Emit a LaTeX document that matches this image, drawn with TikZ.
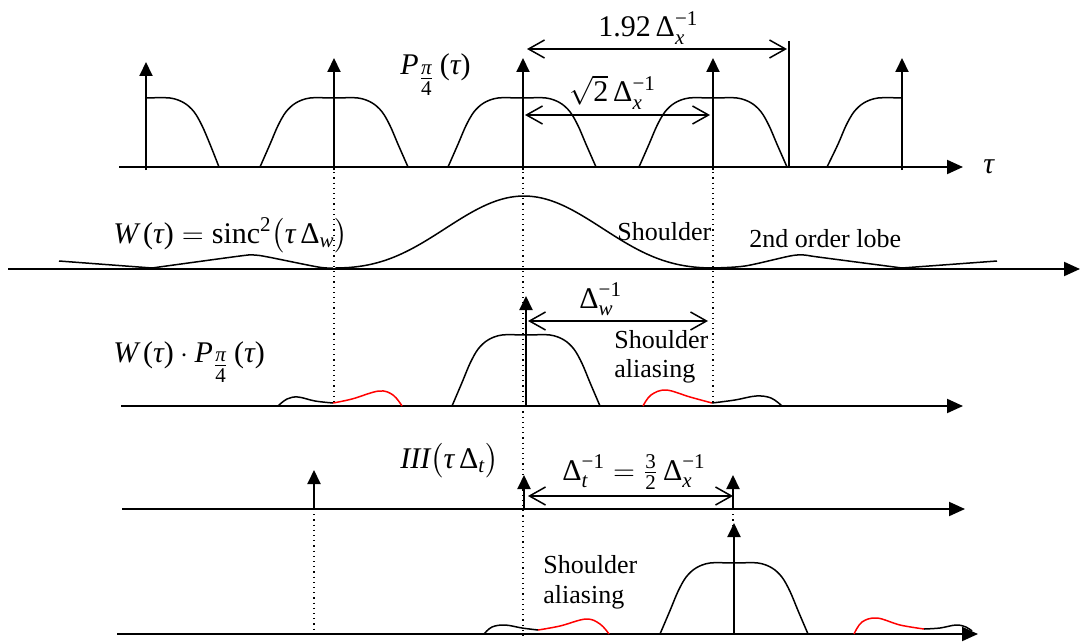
\documentclass[tikz,border=0pt]{standalone}
\usepackage{amsmath}
\usepackage{fontspec}
\setmainfont{Liberation Serif}
\usetikzlibrary{arrows.meta}
\newcommand\ti[1]{\text{\itshape #1}}
\newcommand\vt{\text{\itshape τ}}
\newcommand\vD{\text{Δ}}
\newcommand\vpi{\text{\itshape π}}
\newcommand\mone{\text{−1}}
\newcommand\pifour{\genfrac{}{}{}{1}{\vpi}{\text{4}}}
% hump: center x, axis y, height
\newcommand\humpfull[3]{\draw[curve] plot[smooth,tension=0.55] coordinates {({#1-74},#2) ({#1-64},{#2-0.33*#3}) ({#1-56},{#2-0.6*#3}) ({#1-48},{#2-0.8*#3}) ({#1-38},{#2-0.93*#3}) ({#1-24},{#2-#3}) (#1,{#2-#3}) ({#1+24},{#2-#3}) ({#1+38},{#2-0.93*#3}) ({#1+48},{#2-0.8*#3}) ({#1+56},{#2-0.6*#3}) ({#1+64},{#2-0.33*#3}) ({#1+74},#2)};}
\newcommand\humpright[3]{\draw[curve] plot[smooth,tension=0.55] coordinates {(#1,{#2-#3}) ({#1+24},{#2-#3}) ({#1+38},{#2-0.93*#3}) ({#1+48},{#2-0.8*#3}) ({#1+56},{#2-0.6*#3}) ({#1+64},{#2-0.33*#3}) ({#1+73},#2)};}
\newcommand\humpleft[3]{\draw[curve] plot[smooth,tension=0.55] coordinates {({#1-75},#2) ({#1-64},{#2-0.33*#3}) ({#1-56},{#2-0.6*#3}) ({#1-48},{#2-0.8*#3}) ({#1-38},{#2-0.93*#3}) ({#1-24},{#2-#3}) (#1,{#2-#3})};}
\begin{document}
\begin{tikzpicture}[x=0.5pt,y=-0.5pt,
  declare function={sncx(\u)=sin(\u*180)/(3.14159*\u);},
  axis/.style={line width=1pt,-{Triangle[length=8pt,width=7pt]}},
  impulse/.style={line width=1pt,-{Triangle[length=7pt,width=6.5pt]}},
  curve/.style={line width=0.75pt},
  redcurve/.style={line width=0.75pt,red},
  dimarrow/.style={line width=0.75pt,{Straight Barb[length=8pt,width=9pt]}-{Straight Barb[length=8pt,width=9pt]}},
  guide/.style={line width=0.6pt,dotted},
  txt/.style={font=\fontsize{13}{15}\selectfont,inner sep=0pt,anchor=base west},
  mlab/.style={font=\fontsize{15}{18}\selectfont,inner sep=0pt,anchor=base west},
]
\useasboundingbox (0,0) rectangle (1080,642);

% ---------- axes ----------
\coordinate (a1s) at (119,167); \coordinate (a1e) at (963,167);
\coordinate (a2s) at (8,269);   \coordinate (a2e) at (1080,269);
\coordinate (a3s) at (121,406); \coordinate (a3e) at (963,406);
\coordinate (a4s) at (122,509); \coordinate (a4e) at (965,509);
\coordinate (a5s) at (117,634); \coordinate (a5e) at (978,634);
\draw[axis] (a1s) -- (a1e);
\draw[axis] (a2s) -- (a2e);
\draw[axis] (a3s) -- (a3e);
\draw[axis] (a4s) -- (a4e);
\draw[axis] (a5s) -- (a5e);
\node[mlab] (tau) at (983,173) {\ti{τ}};

% ---------- dotted guides ----------
\coordinate (g1t) at (334,167); \coordinate (g1b) at (334,406);
\coordinate (g2t) at (523,167); \coordinate (g2b) at (523,636);
\coordinate (g3t) at (713,167); \coordinate (g3b) at (713,406);
\coordinate (g4t) at (314,509); \coordinate (g4b) at (314,634);
\coordinate (g5t) at (733,509); \coordinate (g5b) at (733,526);
\foreach \g in {1,...,5} \draw[guide] (g\g t) -- (g\g b);

% ---------- row 1 ----------
\coordinate (i1b) at (146,170); \coordinate (i1t) at (146,62);
\coordinate (i2b) at (334,170); \coordinate (i2t) at (334,58);
\coordinate (i3b) at (523,170); \coordinate (i3t) at (523,58);
\coordinate (i4b) at (713,170); \coordinate (i4t) at (713,58);
\coordinate (i5b) at (902,170); \coordinate (i5t) at (902,58);
\foreach \i in {1,...,5} \draw[impulse] (i\i b) -- (i\i t);
\humpright{146}{167}{69}
\humpfull{334}{167}{69}
\humpfull{522}{167}{69}
\humpfull{713}{167}{69}
\humpleft{902}{167}{69}
\coordinate (vlt) at (789,41); \coordinate (vlb) at (789,167);
\draw[line width=1pt] (vlt) -- (vlb);
\coordinate (d1s) at (527,49); \coordinate (d1e) at (787,49);
\draw[dimarrow] (d1s) -- (d1e);
\coordinate (d2s) at (525,115); \coordinate (d2e) at (710,115);
\draw[dimarrow] (d2s) -- (d2e);
\node[mlab] (l192) at (598,37) {$\text{1.92}\,\vD_{\ti{x}}^{\mone}$};
\node[mlab] (lsq) at (569,102) {$\sqrt{\text{2}}\,\vD_{\ti{x}}^{\mone}$};
\node[mlab] (lP) at (400,75) {$\ti{P}_{\pifour}\,\text{(}\vt\text{)}$};

% ---------- row 2 ----------
\draw[curve] (59,261) -- (152,268);
\draw[curve] plot[smooth,tension=0.5] coordinates {(152,268) (240,256) (254,255) (268,257) (318,267) (333,268)};
\draw[curve] plot[domain=-188.5:188.5,samples=58,smooth] ({524+\x},{268-72*sncx(\x/190)*sncx(\x/190)});
\draw[curve] plot[smooth,tension=0.5] coordinates {(712,268) (745,266) (790,256) (804,255) (818,257) (902,268)};
\draw[curve] (902,268) -- (997,261);
\node[mlab] (lW) at (113,243) {$\ti{W}\,\text{(}\vt\text{)} = \text{sinc}^{\text{2}}\bigl(\vt\,\vD_{\ti{w}}\bigr)$};
\node[txt] (lsh) at (617,240) {Shoulder};
\node[txt] (llobe) at (749,247) {2nd order lobe};

% ---------- row 3 ----------
\coordinate (j1b) at (526,406); \coordinate (j1t) at (526,296);
\draw[impulse] (j1b) -- (j1t);
\humpfull{526}{406}{71}
\draw[curve] plot[smooth,tension=0.6] coordinates {(278,406) (287,399) (298,397) (315,401) (333,403)};
\draw[redcurve] plot[smooth,tension=0.6] coordinates {(333,403) (352,399) (379,391) (393,395) (402,406)};
\draw[redcurve] plot[smooth,tension=0.6] coordinates {(643,406) (651,395) (666,390) (690,397) (712,403)};
\draw[curve] plot[smooth,tension=0.6] coordinates {(712,403) (735,400) (756,396) (771,398) (782,406)};
\coordinate (d3s) at (528,321); \coordinate (d3e) at (708,321);
\draw[dimarrow] (d3s) -- (d3e);
\node[mlab] (lDw) at (579,308) {$\vD_{\ti{w}}^{\mone}$};
\node[mlab] (lWP) at (113,362) {$\ti{W}\,\text{(}\vt\text{)}\cdot\ti{P}_{\pifour}\,\text{(}\vt\text{)}$};
\node[txt] (lsa1) at (614,348) {Shoulder};
\node[txt] (lsa2) at (614,377) {aliasing};

% ---------- row 4 ----------
\coordinate (k1b) at (314,509); \coordinate (k1t) at (314,470);
\coordinate (k2b) at (524,509); \coordinate (k2t) at (524,475);
\coordinate (k3b) at (733,509); \coordinate (k3t) at (733,475);
\foreach \k in {1,2,3} \draw[impulse] (k\k b) -- (k\k t);
\coordinate (d4s) at (528,496); \coordinate (d4e) at (733,496);
\draw[dimarrow] (d4s) -- (d4e);
\node[mlab] (lIII) at (400,468) {$\ti{III}\bigl(\vt\,\vD_{\ti{t}}\bigr)$};
\node[mlab] (lDt) at (562,480) {$\vD_{\ti{t}}^{\mone} = \frac{\text{3}}{\text{2}}\,\vD_{\ti{x}}^{\mone}$};

% ---------- row 5 ----------
\coordinate (m1b) at (734,634); \coordinate (m1t) at (734,523);
\draw[impulse] (m1b) -- (m1t);
\humpfull{734}{634}{71}
\draw[curve] plot[smooth,tension=0.6] coordinates {(484,634) (492,627) (505,625) (522,628) (538,630)};
\draw[redcurve] plot[smooth,tension=0.6] coordinates {(538,630) (560,626) (586,619) (600,624) (609,634)};
\draw[redcurve] plot[smooth,tension=0.6] coordinates {(854,634) (862,622) (877,618) (900,625) (924,629)};
\draw[curve] plot[smooth,tension=0.6] coordinates {(924,629) (940,628) (956,625) (966,627) (972,631)};
\node[txt] (lsb1) at (543,573) {Shoulder};
\node[txt] (lsb2) at (543,603) {aliasing};
\end{tikzpicture}
\end{document}
